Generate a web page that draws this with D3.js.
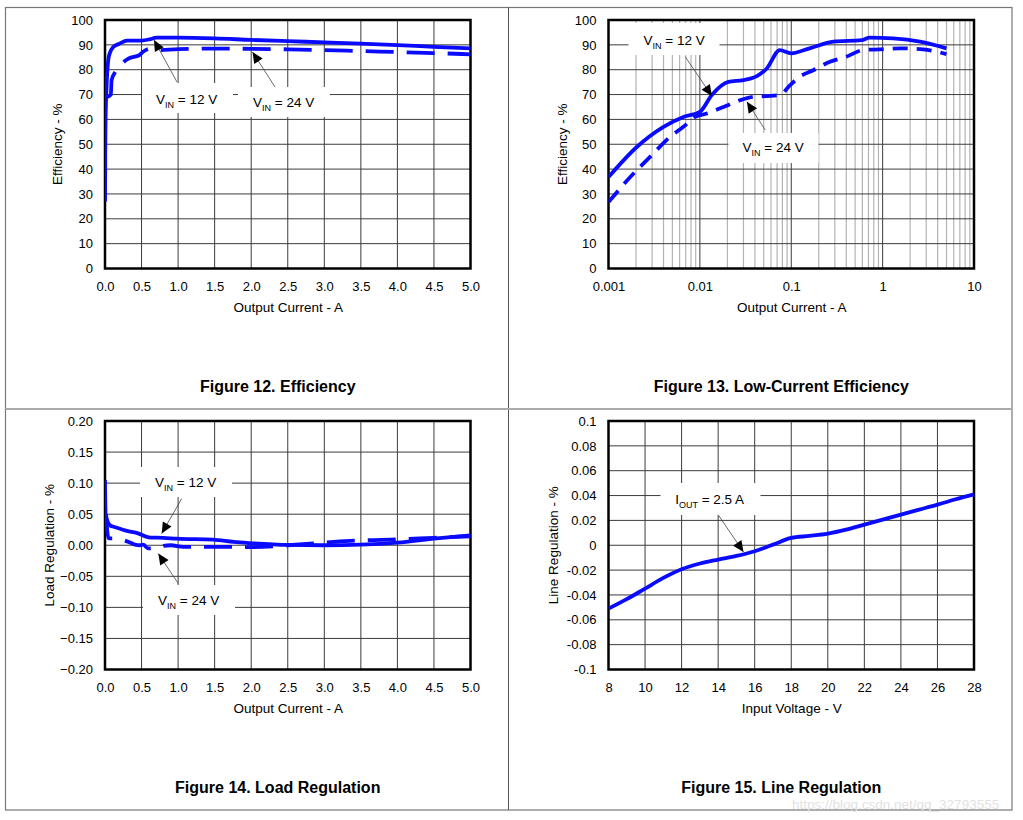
<!DOCTYPE html>
<html><head><meta charset="utf-8">
<script src="https://cdn.jsdelivr.net/npm/d3@7"></script>
<style>
html,body{margin:0;padding:0;background:#fff;}
svg{display:block;font-family:"Liberation Sans",Arial,sans-serif;}
</style></head>
<body>
<svg id="c" width="1023" height="820"></svg>
<script>
// ---------- DATA ----------
// Figure 12: Efficiency vs output current (linear)
const fig12Current12V = [0.001,0.003,0.008,0.02,0.045,0.07,0.11,0.2,0.3,0.5,0.62,0.7,1.0,1.5,2.0,2.5,3.0,3.5,4.0,4.5,5.0];
const fig12Eff12V     = [27,45,60,72,84,87,89,90.5,91.7,91.7,92.3,92.9,92.9,92.6,92,91.5,91,90.5,89.9,89.2,88.6];
const fig12Current24V = [0.03,0.08,0.09,0.15,0.2,0.32,0.47,0.52,0.62,0.73,1.0,1.5,2.0,2.5,3.0,3.5,4.0,4.5,5.0];
const fig12Eff24V     = [69,70,75.8,79.5,81.5,84.5,85.9,87.2,88.5,87.9,88.3,88.5,88.4,88.2,87.9,87.5,87.1,86.7,86.2];

// Figure 13: Low-current efficiency (log x)
const fig13Current12V = [0.001,0.00204,0.004,0.0066,0.01,0.0135,0.0205,0.03,0.042,0.054,0.075,0.1,0.159,0.29,0.59,0.72,1.3,2.56,5.0];
const fig13Eff12V     = [36.8,48.9,57,61,63,69.8,75.1,75.8,77.4,80.5,87.9,86.6,88.6,91.3,91.9,92.9,92.6,91.3,88.6];
const fig13Current24V = [0.001,0.00173,0.00285,0.00472,0.0066,0.00885,0.0119,0.0181,0.0275,0.0385,0.054,0.075,0.097,0.124,0.174,0.265,0.4,0.61,0.93,1.55,2.77,5.0];
const fig13Eff24V     = [26.7,36.8,44.9,53,57,61,62.4,65,67.7,69.1,69.4,69.8,73.8,77.2,79.8,83.2,85.2,87.9,88.2,88.6,88.2,86.3];

// Figure 14: Load regulation
const fig14Current12V = [0,0.008,0.03,0.068,0.14,0.3,0.43,0.62,0.8,0.98,1.48,1.76,1.98,2.5,3.0,3.5,4.0,4.5,5.0];
const fig14Reg12V     = [0.105,0.05,0.04,0.032,0.029,0.023,0.020,0.0124,0.012,0.0105,0.009,0.0054,0.0035,0.0005,0.0,0.001,0.0043,0.0107,0.016];
const fig14Current24V = [0.015,0.03,0.05,0.1,0.23,0.35,0.41,0.48,0.52,0.59,0.74,0.8,0.9,1.07,1.5,2.0,2.5,2.85,3.35,3.9,4.5,5.0];
const fig14Reg24V     = [0.05,0.024,0.011,0.011,0.009,0.004,0.001,0.0,0.001,-0.005,-0.005,-0.001,0.0,-0.0025,-0.0025,-0.003,0.0,0.003,0.007,0.009,0.012,0.0145];

// Figure 15: Line regulation
const fig15Vin = [8,9,10,11,12,13,14,15,16,17,18,19,20,21,22,23,24,25,26,27,28];
const fig15Reg = [-0.051,-0.0434,-0.0349,-0.0263,-0.0193,-0.0147,-0.0115,-0.0086,-0.0048,0.0005,0.0059,0.0075,0.0094,0.0126,0.0166,0.0206,0.0247,0.0287,0.0327,0.037,0.041];

// Tick labels
const linCurrentTicks = [0,0.5,1,1.5,2,2.5,3,3.5,4,4.5,5];
const effTicks = [0,10,20,30,40,50,60,70,80,90,100];
const logCurrentTicks = [0.001,0.01,0.1,1,10];
const logCurrentLabels = ["0.001","0.01","0.1","1","10"];
const loadRegTicks = [-0.2,-0.15,-0.1,-0.05,0,0.05,0.1,0.15,0.2];
const lineRegTicks = [-0.1,-0.08,-0.06,-0.04,-0.02,0,0.02,0.04,0.06,0.08,0.1];
const vinTicks = [8,10,12,14,16,18,20,22,24,26,28];

// ---------- DRAW ----------
const svg = d3.select("#c");
const BLUE = "#0a0aff";
const PW = 365.5, PH = 248.5;

// frame
svg.append("rect").attr("x",5.5).attr("y",7.5).attr("width",1006.5).attr("height",802.5)
  .attr("fill","none").attr("stroke","#777").attr("stroke-width",1.2);
svg.append("line").attr("x1",508.5).attr("x2",508.5).attr("y1",7.5).attr("y2",810)
  .attr("stroke","#555").attr("stroke-width",1);
svg.append("line").attr("x1",5.5).attr("x2",1012).attr("y1",409).attr("y2",409)
  .attr("stroke","#aaa").attr("stroke-width",2);

let clipId = 0;
function zip(xs, ys){ return xs.map((x,i)=>[x,ys[i]]); }

function panel(o){
  const g = svg.append("g").attr("transform",`translate(${o.left},${o.top})`);
  const x = o.x, y = o.y;
  // grid
  const grid = g.append("g");
  if (o.xMinor){
    o.xMinor.forEach(v=>{
      grid.append("line").attr("x1",x(v)).attr("x2",x(v)).attr("y1",0).attr("y2",PH)
        .attr("stroke","#b4b4b4").attr("stroke-width",1.2);
    });
  }
  o.xGrid.forEach(v=>{
    grid.append("line").attr("x1",x(v)).attr("x2",x(v)).attr("y1",0).attr("y2",PH)
      .attr("stroke","#3c3c3c").attr("stroke-width",1);
  });
  o.yGrid.forEach(v=>{
    grid.append("line").attr("x1",0).attr("x2",PW).attr("y1",y(v)).attr("y2",y(v))
      .attr("stroke","#3c3c3c").attr("stroke-width",1);
  });
  // label boxes (cover grid)
  o.notes.forEach(n=>{
    g.append("rect").attr("x",n.box[0]).attr("y",n.box[1]).attr("width",n.box[2]).attr("height",n.box[3])
      .attr("fill","#fff");
  });
  // border
  g.append("rect").attr("x",0).attr("y",0).attr("width",PW).attr("height",PH)
    .attr("fill","none").attr("stroke","#000").attr("stroke-width",2.5);
  // axes tick labels
  const xa = d3.axisBottom(x).tickValues(o.xTicks).tickSize(0).tickPadding(13).tickFormat(o.xFmt);
  const xg = g.append("g").attr("transform",`translate(0,${PH})`).call(xa);
  xg.select(".domain").remove();
  xg.selectAll("text").attr("font-size",13).attr("fill","#000").attr("font-family","Liberation Sans, Arial, sans-serif");
  const ya = d3.axisLeft(y).tickValues(o.yTicks).tickSize(0).tickPadding(12).tickFormat(o.yFmt);
  const yg = g.append("g").call(ya);
  yg.select(".domain").remove();
  yg.selectAll("text").attr("font-size",13).attr("fill","#000").attr("font-family","Liberation Sans, Arial, sans-serif");
  // axis titles
  g.append("text").attr("x",PW/2+0.5).attr("y",PH+43).attr("text-anchor","middle")
    .attr("font-size",13.5).text(o.xLabel);
  g.append("text").attr("transform",`translate(${o.yLabelX},${PH/2}) rotate(-90)`)
    .attr("text-anchor","middle").attr("font-size",13.5).text(o.yLabel);
  // figure title
  g.append("text").attr("x",PW/2-10).attr("y",372).attr("text-anchor","middle")
    .attr("font-size",16).attr("font-weight","bold").text(o.title);
  // curves
  const id = "clip"+(clipId++);
  g.append("clipPath").attr("id",id).append("rect").attr("x",0).attr("y",0).attr("width",PW+2).attr("height",PH);
  const line = d3.line().x(d=>x(d[0])).y(d=>y(d[1])).curve(d3.curveMonotoneX);
  o.series.forEach(s=>{
    g.append("path").attr("clip-path",`url(#${id})`).attr("d",line(s.data))
      .attr("fill","none").attr("stroke",BLUE).attr("stroke-width",3.8)
      .attr("stroke-linejoin","round")
      .attr("stroke-dasharray",s.dash||null);
  });
  // annotations
  o.notes.forEach(n=>{
    const [x1,y1,x2,y2] = n.arrow;
    g.append("line").attr("x1",x1).attr("y1",y1).attr("x2",x2).attr("y2",y2)
      .attr("stroke","#444").attr("stroke-width",0.8);
    const ang = Math.atan2(y2-y1,x2-x1);
    const L = 11, Wd = 5;
    const bx = x2 - L*Math.cos(ang), by = y2 - L*Math.sin(ang);
    const px = -Math.sin(ang)*Wd, py = Math.cos(ang)*Wd;
    g.append("path").attr("d",`M${x2},${y2}L${bx+px},${by+py}L${bx-px},${by-py}Z`).attr("fill","#000");
    const t = g.append("text").attr("x",n.text[0]).attr("y",n.text[1]).attr("font-size",13.5);
    t.append("tspan").text(n.main);
    t.append("tspan").attr("font-size",9).attr("dy",4).text(n.sub);
    t.append("tspan").attr("dy",-4).text(n.rest);
  });
}

const fmt1 = d3.format(".1f");
const fmt2 = d3.format(".2f");

// Figure 12
panel({
  left:105, top:20,
  x: d3.scaleLinear().domain([0,5]).range([0,PW]),
  y: d3.scaleLinear().domain([0,100]).range([PH,0]),
  xGrid: linCurrentTicks, yGrid: effTicks,
  xTicks: linCurrentTicks, yTicks: effTicks, xFmt: fmt1, yFmt: d3.format("d"),
  xLabel:"Output Current - A", yLabel:"Efficiency - %", yLabelX:-43,
  title:"Figure 12. Efficiency",
  series:[
    {data: zip(fig12Current12V, fig12Eff12V)},
    {data: zip(fig12Current24V, fig12Eff24V), dash:"28,13"}
  ],
  notes:[
    {box:[37,63,91,30], text:[51,84], arrow:[72,62,49,20], main:"V", sub:"IN", rest:" = 12 V"},
    {box:[133,67,92,30], text:[148,87], arrow:[170,67,147.5,32], main:"V", sub:"IN", rest:" = 24 V"}
  ]
});

// Figure 13
const minor = [];
[0.001,0.01,0.1,1].forEach(d=>{ for(let k=2;k<=9;k++) minor.push(d*k); });
panel({
  left:608.5, top:20,
  x: d3.scaleLog().domain([0.001,10]).range([0,PW]),
  y: d3.scaleLinear().domain([0,100]).range([PH,0]),
  xGrid: logCurrentTicks, xMinor: minor, yGrid: effTicks,
  xTicks: logCurrentTicks, yTicks: effTicks,
  xFmt: (d,i)=>logCurrentLabels[i], yFmt: d3.format("d"),
  xLabel:"Output Current - A", yLabel:"Efficiency - %", yLabelX:-42,
  title:"Figure 13. Low-Current Efficiency",
  series:[
    {data: zip(fig13Current12V, fig13Eff12V)},
    {data: zip(fig13Current24V, fig13Eff24V), dash:"15,9"}
  ],
  notes:[
    {box:[20,3,91,32], text:[35,25], arrow:[76.7,36.7,103.4,76], main:"V", sub:"IN", rest:" = 12 V"},
    {box:[120,113,90,30], text:[134,132], arrow:[156.7,110,138.4,81.7], main:"V", sub:"IN", rest:" = 24 V"}
  ]
});

// Figure 14
panel({
  left:105, top:421,
  x: d3.scaleLinear().domain([0,5]).range([0,PW]),
  y: d3.scaleLinear().domain([-0.2,0.2]).range([PH,0]),
  xGrid: linCurrentTicks, yGrid: loadRegTicks,
  xTicks: linCurrentTicks, yTicks: loadRegTicks, xFmt: fmt1, yFmt: fmt2,
  xLabel:"Output Current - A", yLabel:"Load Regulation - %", yLabelX:-51,
  title:"Figure 14. Load Regulation",
  series:[
    {data: zip(fig14Current12V, fig14Reg12V)},
    {data: zip(fig14Current24V, fig14Reg24V), dash:"28,13"}
  ],
  notes:[
    {box:[35,46,92,30], text:[50,66], arrow:[76.7,77.6,56.7,112.6], main:"V", sub:"IN", rest:" = 12 V"},
    {box:[38,164,92,30], text:[53,184], arrow:[73.3,162.6,53.3,132.6], main:"V", sub:"IN", rest:" = 24 V"}
  ]
});

// Figure 15
panel({
  left:608.5, top:421,
  x: d3.scaleLinear().domain([8,28]).range([0,PW]),
  y: d3.scaleLinear().domain([-0.1,0.1]).range([PH,0]),
  xGrid: vinTicks, yGrid: lineRegTicks,
  xTicks: vinTicks, yTicks: lineRegTicks, xFmt: d3.format("d"),
  yFmt: d=> (Math.abs(d)<1e-9 ? "0" : String(+d.toFixed(2))),
  xLabel:"Input Voltage - V", yLabel:"Line Regulation - %", yLabelX:-51,
  title:"Figure 15. Line Regulation",
  series:[
    {data: zip(fig15Vin, fig15Reg)}
  ],
  notes:[
    {box:[52,62,100,32], text:[66.7,83], arrow:[110,94.3,135,131], main:"I", sub:"OUT", rest:" = 2.5 A"}
  ]
});

// watermark
svg.append("text").attr("x",792).attr("y",809).attr("font-size",13.5).attr("fill","#e2e2e2")
  .text("https://blog.csdn.net/qq_32793555");
</script>
</body></html>
